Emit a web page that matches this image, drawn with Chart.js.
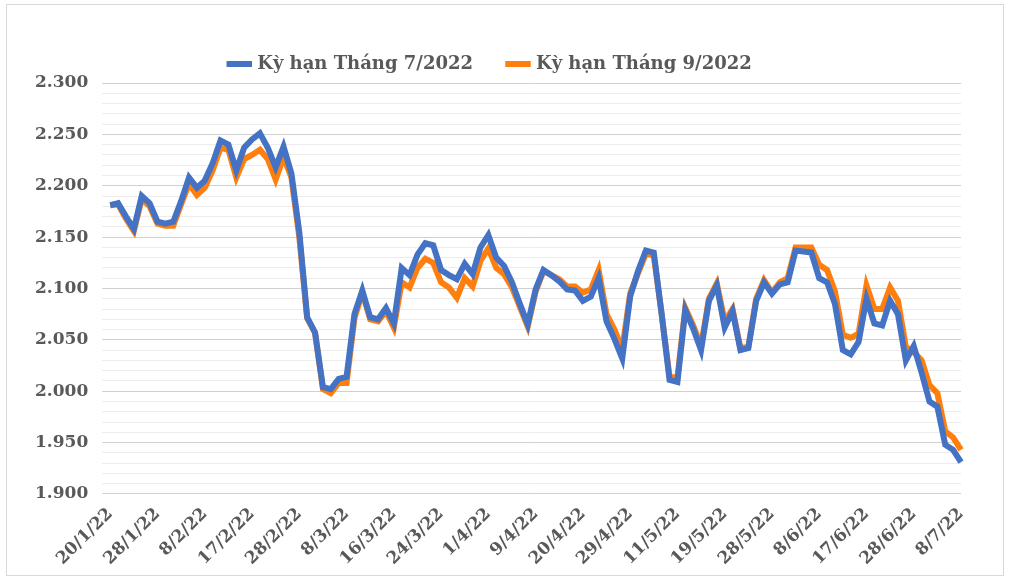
<!DOCTYPE html>
<html>
<head>
<meta charset="utf-8">
<script src="https://cdn.jsdelivr.net/npm/chart.js@4"></script>
<style>
    html, body { margin: 0; background: #fff; }
    #wrap { position: absolute; left: 6px; top: 4px; width: 996px; height: 570px; border: 1px solid #d9d9d9; }
</style>
</head>
<body>
<div id="wrap"><canvas id="chart" width="996" height="570"></canvas></div>
<script>
const tickLabels = ['20/1/22', '28/1/22', '8/2/22', '17/2/22', '28/2/22', '8/3/22', '16/3/22', '24/3/22', '1/4/22',
    '9/4/22', '20/4/22', '29/4/22', '11/5/22', '19/5/22', '28/5/22', '8/6/22', '17/6/22', '28/6/22', '8/7/22'];
const tickEvery = 6;

const july = [2.181, 2.183, 2.170, 2.158, 2.190, 2.183, 2.165, 2.163, 2.165, 2.185, 2.208, 2.198, 2.205, 2.222,
    2.244, 2.240, 2.215, 2.237, 2.245, 2.251, 2.237, 2.218, 2.238, 2.212, 2.155, 2.072, 2.057, 2.004, 2.002,
    2.012, 2.014, 2.075, 2.098, 2.072, 2.070, 2.081, 2.066, 2.120, 2.113, 2.133, 2.144, 2.142, 2.118, 2.113,
    2.109, 2.124, 2.114, 2.140, 2.152, 2.130, 2.122, 2.106, 2.085, 2.065, 2.099, 2.118, 2.113, 2.107, 2.099,
    2.098, 2.088, 2.092, 2.110, 2.068, 2.051, 2.032, 2.092, 2.117, 2.137, 2.135, 2.075, 2.011, 2.009, 2.079,
    2.061, 2.040, 2.088, 2.103, 2.062, 2.078, 2.040, 2.042, 2.088, 2.106, 2.095, 2.104, 2.106, 2.137, 2.136,
    2.135, 2.110, 2.106, 2.085, 2.040, 2.036, 2.048, 2.090, 2.066, 2.064, 2.088, 2.075, 2.030, 2.044, 2.018,
    1.990, 1.985, 1.948, 1.943, 1.931];
const september = [2.181, 2.182, 2.168, 2.156, 2.187, 2.180, 2.163, 2.161, 2.161, 2.182, 2.202, 2.191, 2.198,
    2.215, 2.237, 2.235, 2.208, 2.226, 2.230, 2.235, 2.226, 2.206, 2.228, 2.208, 2.150, 2.071, 2.057, 2.002,
    1.998, 2.008, 2.008, 2.071, 2.096, 2.070, 2.068, 2.078, 2.062, 2.106, 2.101, 2.120, 2.129, 2.125, 2.106,
    2.101, 2.091, 2.110, 2.102, 2.127, 2.139, 2.120, 2.114, 2.101, 2.082, 2.063, 2.097, 2.117, 2.113, 2.109,
    2.102, 2.102, 2.096, 2.099, 2.118, 2.075, 2.060, 2.041, 2.095, 2.115, 2.134, 2.132, 2.075, 2.014, 2.013,
    2.081, 2.064, 2.044, 2.090, 2.105, 2.068, 2.080, 2.042, 2.043, 2.090, 2.108, 2.096, 2.106, 2.110, 2.140,
    2.140, 2.140, 2.123, 2.118, 2.097, 2.055, 2.052, 2.056, 2.103, 2.080, 2.080, 2.101, 2.088, 2.043, 2.038,
    2.030, 2.006, 1.998, 1.961, 1.955, 1.943];

const labels = july.map((v, i) => (i % tickEvery == 0 ? tickLabels[i / tickEvery] : ''));
const font = { family: 'DejaVu Serif', weight: 'bold', size: 17 };

new Chart(document.querySelector('#chart'), {
    type: 'line',
    data: {
        labels: labels,
        datasets: [
            { label: 'Kỳ hạn Tháng 7/2022', data: july, borderColor: '#4472C4', backgroundColor: '#4472C4',
              borderWidth: 6, pointRadius: 0, tension: 0 },
            { label: 'Kỳ hạn Tháng 9/2022', data: september, borderColor: '#FF7F0E', backgroundColor: '#FF7F0E',
              borderWidth: 6, pointRadius: 0, tension: 0 },
        ],
    },
    options: {
        responsive: false,
        animation: false,
        devicePixelRatio: 1,
        layout: { padding: { left: 14, right: 42, top: 14, bottom: 4 } },
        plugins: {
            tooltip: { enabled: false },
            legend: {
                labels: { usePointStyle: true, pointStyle: 'line', boxWidth: 55, padding: 36,
                          color: '#595959', font: { family: 'DejaVu Serif', weight: 'bold', size: 18 } },
            },
        },
        scales: {
            x: {
                grid: { display: false },
                border: { display: false },
                ticks: { autoSkip: false, maxRotation: 45, minRotation: 45, color: '#595959', font: font,
                         padding: 2 },
            },
            y: {
                min: 1.9, max: 2.3,
                border: { display: false },
                grid: { color: ctx => (Math.round(ctx.tick.value * 1000) % 50 == 0 ? '#d0d0d0' : '#ececec') },
                ticks: { stepSize: 0.01, autoSkip: false, color: '#595959', font: font, padding: 14,
                         callback: v => (Math.round(v * 1000) % 50 == 0 ? v.toFixed(3) : '') },
            },
        },
    },
});
</script>
</body>
</html>
